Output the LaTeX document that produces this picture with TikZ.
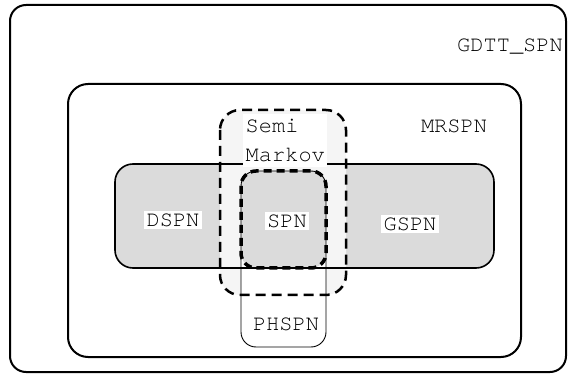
\documentclass[tikz,border=0pt]{standalone}
\usepackage{fontspec}
\newfontfamily\courfont{TeX Gyre Cursor}
\usepackage{tikz}
\usetikzlibrary{positioning}

\begin{document}
\begin{tikzpicture}[
  x=1pt, y=-1pt,
  outerbox/.style={draw, line width=2pt, rounded corners=16pt},
  classbox/.style={draw, line width=1.6pt, rounded corners=18pt},
  semibox/.style={draw, line width=2.5pt, dash pattern=on 10pt off 6pt, rounded corners=20pt},
  spnbox/.style={draw, line width=3.5pt, dash pattern=on 8pt off 5pt, rounded corners=15pt},
  phbox/.style={draw, line width=0.9pt, rounded corners=15pt},
  lbl/.style={fill=white, inner sep=2.5pt, font=\courfont\fontsize{22}{29}\selectfont}
]
  \useasboundingbox (0,0) rectangle (568,374);
  % fills first
  \fill[black!14, rounded corners=18pt] (115,164) rectangle (494,268);
  \fill[black!4, rounded corners=20pt] (220,110) rectangle (346,295);
  \fill[white, rounded corners=15pt] (241,171) rectangle (326,347);
  \fill[black!14, rounded corners=15pt] (241,171) rectangle (326,268);
  % borders
  \path[outerbox] (10,5) rectangle (566,372);
  \path[outerbox, rounded corners=20pt] (68,84) rectangle (521,357);
  \path[classbox] (115,164) rectangle (494,268);
  \path[semibox] (220,110) rectangle (346,295);
  \path[phbox] (241,171) rectangle (326,347);
  \path[spnbox] (241,171) rectangle (326,268);
  % labels
  \node[lbl] (gdtt) at (510,47) {GDTT\_SPN};
  \node[lbl] (mrspn) at (454,126) {MRSPN};
  \node[lbl, align=left, anchor=north west, inner ysep=5pt] (semi) at (243,114) {Semi\\Markov};
  \node[lbl] (dspn) at (173,220) {DSPN};
  \node[lbl] (spn) at (287,221) {SPN};
  \node[lbl] (gspn) at (410,224) {GSPN};
  \node[lbl] (phspn) at (286,324) {PHSPN};
\end{tikzpicture}
\end{document}
